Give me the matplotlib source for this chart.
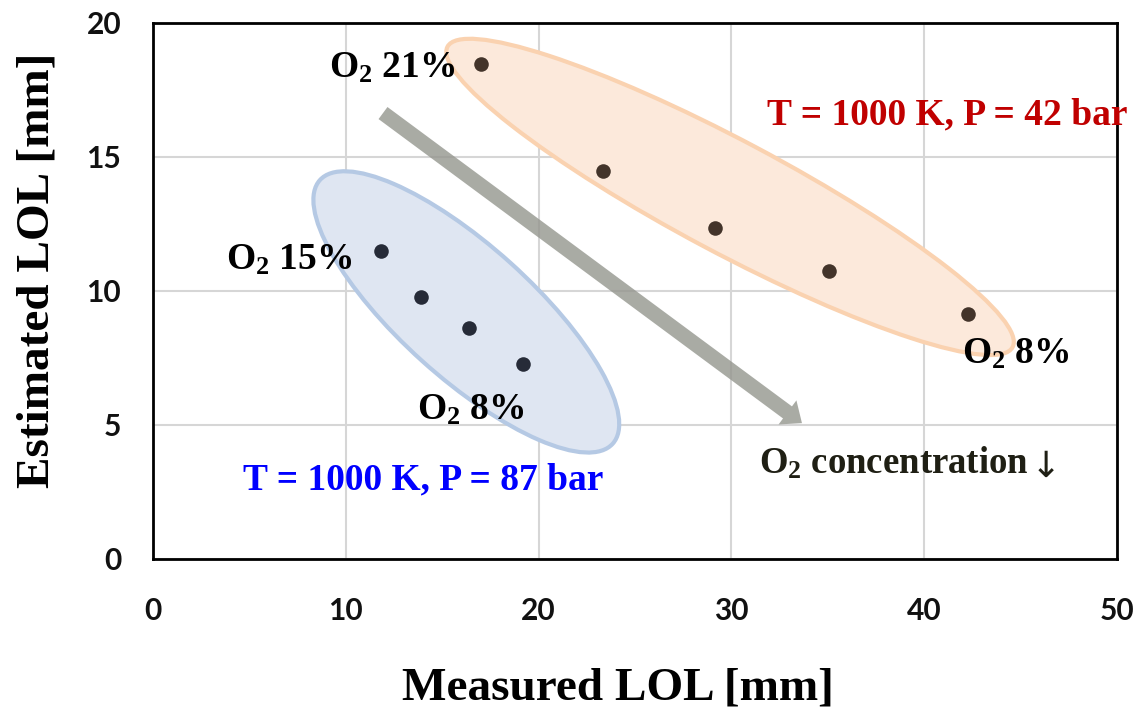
import matplotlib
matplotlib.use("Agg")
import matplotlib.pyplot as plt
from matplotlib.patches import Ellipse, FancyArrowPatch, ArrowStyle
import matplotlib.transforms as mtransforms

# ---------------- data ----------------
measured_87 = [11.83, 13.90, 16.39, 19.19]
estimated_87 = [11.49, 9.78, 8.62, 7.28]
measured_42 = [17.01, 23.34, 29.15, 35.06, 42.27]
estimated_42 = [18.47, 14.48, 12.35, 10.75, 9.14]

x_ticks = [0, 10, 20, 30, 40, 50]
y_ticks = [0, 5, 10, 15, 20]

x_label = "Measured LOL [mm]"
y_label = "Estimated LOL [mm]"
label_87 = "T = 1000 K, P = 87 bar"
label_42 = "T = 1000 K, P = 42 bar"
arrow_label = "O$_{2}$ concentration"

# ---------------- style ----------------
plt.rcParams['mathtext.fontset'] = 'custom'
plt.rcParams['mathtext.rm'] = 'Liberation Serif:bold'
plt.rcParams['mathtext.it'] = 'Liberation Serif:bold'
plt.rcParams['mathtext.bf'] = 'Liberation Serif:bold'

serif = ['Liberation Serif', 'DejaVu Serif']

fig = plt.figure(figsize=(11.43, 7.12), dpi=100)
ax = fig.add_axes([153/1143, 1-559/712, (1117-153)/1143, (559-23)/712])

ax.set_xlim(0, 50)
ax.set_ylim(0, 20)
ax.set_xticks(x_ticks)
ax.set_yticks(y_ticks)
ax.tick_params(length=0, labelsize=21.5, colors='#111111')
ax.tick_params(axis='x', pad=27)
ax.tick_params(axis='y', pad=23)
for lbl in ax.get_xticklabels() + ax.get_yticklabels():
    lbl.set_fontfamily(['Lato', 'DejaVu Sans'])
    lbl.set_fontweight('bold')

ax.grid(True, color='#d6d6d6', linewidth=1.5, zorder=0)
ax.set_axisbelow(True)
for sp in ax.spines.values():
    sp.set_linewidth(2.0)
    sp.set_color('black')

# ellipses (in physical units, anchored at data centres)
def add_ellipse(cx, cy, w_px, h_px, angle, face, edge):
    trans = fig.dpi_scale_trans + mtransforms.ScaledTranslation(cx, cy, ax.transData)
    e = Ellipse((0, 0), w_px/100, h_px/100, angle=angle, transform=trans,
                facecolor=face, edgecolor=edge, linewidth=3.0, zorder=2)
    ax.add_patch(e)

add_ellipse(29.93, 13.51, 640, 112, -28, '#fce9db', '#fad2b0')
add_ellipse(16.25, 9.22, 394, 132, -42, '#dfe6f2', '#b5c9e4')

# arrow
arr = FancyArrowPatch((11.93, 16.64), (33.66, 5.07),
                      arrowstyle=ArrowStyle.Simple(head_length=1.2, head_width=2.0, tail_width=1.0),
                      mutation_scale=10.8, color='#94968e', alpha=0.8,
                      shrinkA=0, shrinkB=0, zorder=3, linewidth=0)
ax.add_patch(arr)

# points
ax.scatter(measured_87, estimated_87, s=110, color='#262b38', zorder=5, linewidths=0)
ax.scatter(measured_42, estimated_42, s=110, color='#43342a', zorder=5, linewidths=0)

# annotations
tk = dict(fontfamily=serif, fontweight='bold', fontsize=27, zorder=6)
ax.text(15.66, 18.32, "O$_{2}$ 21%", ha='right', va='center', color='black', **tk)
ax.text(10.32, 11.16, "O$_{2}$ 15%", ha='right', va='center', color='black', **tk)
ax.text(16.49, 5.56, "O$_{2}$ 8%", ha='center', va='center', color='black', **tk)
ax.text(44.76, 7.65, "O$_{2}$ 8%", ha='center', va='center', color='black', **tk)
ax.text(41.2, 16.57, label_42, ha='center', va='center', color='#c00000', **tk)
ax.text(14.0, 2.95, label_87, ha='center', va='center', color='#0000ff', **tk)
ax.text(38.45, 3.58, arrow_label, ha='center', va='center', color='#1f1f14',
        fontfamily=serif, fontweight='bold', fontsize=26.5, zorder=6)
ax.text(46.3, 3.45, "\u2193", ha='center', va='center', color='#1f1f14',
        fontfamily=['DejaVu Sans'], fontsize=26, zorder=6)

# axis titles
fig.text(618/1143, 1-688/712, x_label, ha='center', va='center',
         fontfamily=serif, fontweight='bold', fontsize=34)
fig.text(38/1143, 1-270/712, y_label, ha='center', va='center', rotation=90,
         fontfamily=serif, fontweight='bold', fontsize=34)

fig.savefig("out.png", dpi=100)
